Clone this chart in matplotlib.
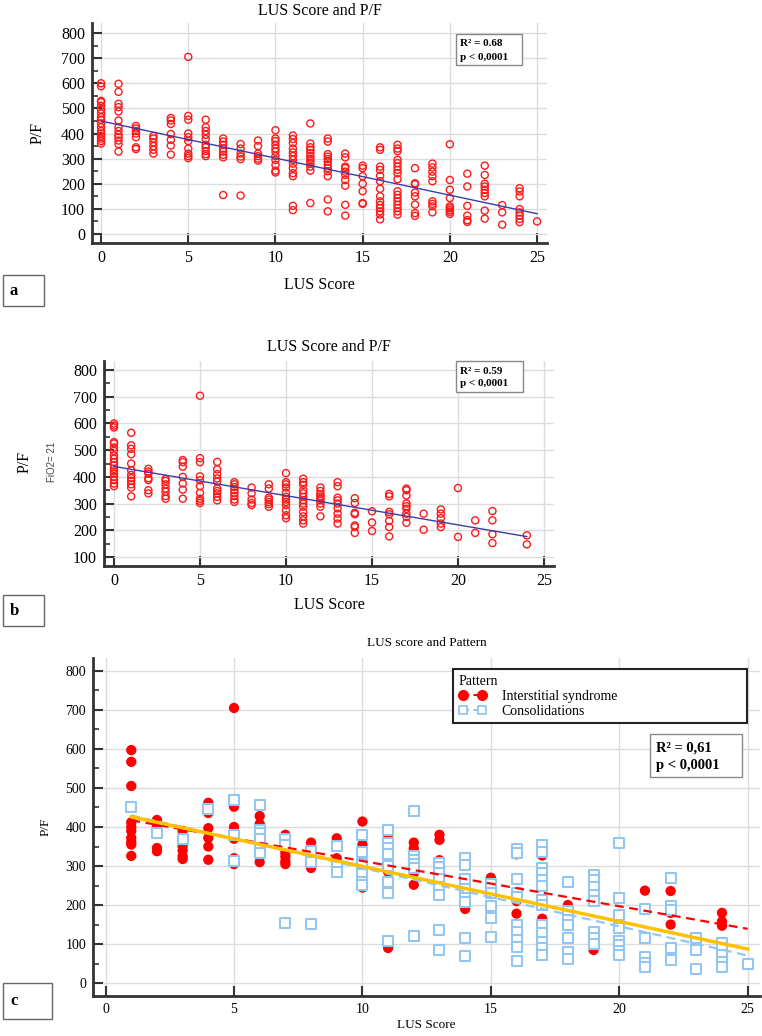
import numpy as np
import matplotlib
matplotlib.use("Agg")
import matplotlib.pyplot as plt
from matplotlib.patches import Rectangle
from matplotlib.lines import Line2D

plt.rcParams['font.family'] = ['Liberation Serif', 'DejaVu Serif']

# ---------------- data ----------------
a_scores = list(range(0, 26))
a_values = [
    [600, 588, 530, 525, 510, 495, 480, 465, 455, 440, 425, 410, 400, 390, 380, 370, 360],
    [598, 566, 518, 505, 488, 452, 425, 410, 395, 385, 372, 358, 328],
    [430, 420, 410, 400, 385, 345, 338],
    [390, 380, 365, 350, 335, 320],
    [462, 452, 438, 398, 375, 352, 316],
    [705, 470, 455, 400, 385, 370, 340, 320, 310, 302],
    [455, 425, 410, 395, 378, 355, 345, 330, 318, 310],
    [380, 368, 355, 340, 328, 315, 305, 155],
    [358, 340, 320, 308, 298, 153],
    [372, 350, 320, 310, 300, 292],
    [413, 380, 370, 355, 340, 328, 310, 295, 275, 252, 245],
    [392, 378, 362, 340, 325, 310, 295, 280, 262, 242, 230, 112, 95],
    [440, 360, 345, 335, 322, 310, 300, 290, 280, 268, 252, 123],
    [380, 368, 318, 308, 298, 288, 275, 262, 250, 230, 137, 90],
    [320, 305, 268, 262, 248, 235, 215, 192, 116, 73],
    [272, 262, 230, 200, 170, 123, 120],
    [345, 335, 268, 255, 232, 210, 180, 150, 130, 115, 103, 90, 78, 58],
    [355, 340, 330, 295, 282, 268, 255, 242, 218, 170, 156, 143, 130, 116, 103, 90, 77],
    [262, 202, 198, 165, 150, 117, 83, 72],
    [280, 265, 248, 230, 210, 130, 120, 110, 86],
    [357, 215, 176, 143, 110, 103, 95, 88, 80],
    [240, 189, 112, 73, 55, 48],
    [272, 235, 200, 189, 176, 163, 150, 93, 61],
    [115, 86, 37],
    [182, 169, 150, 99, 86, 73, 60, 47],
    [50],
]

b_scores = [0, 1, 2, 3, 4, 5, 6, 7, 8, 9, 10, 11, 12, 13, 14, 15, 16, 17, 18, 19, 20, 21, 22, 24]
b_values = [
    [600, 592, 585, 530, 525, 510, 497, 480, 468, 455, 443, 430, 420, 412, 400, 388, 375, 365],
    [565, 518, 505, 485, 450, 425, 407, 395, 385, 372, 360, 327],
    [430, 420, 412, 395, 388, 350, 338],
    [392, 385, 372, 356, 344, 328, 318],
    [463, 455, 438, 400, 375, 352, 318],
    [704, 470, 455, 402, 387, 365, 340, 318, 310, 302],
    [456, 428, 410, 394, 382, 356, 347, 338, 325, 312],
    [380, 372, 362, 350, 340, 328, 315, 306],
    [360, 338, 315, 302, 294],
    [372, 356, 322, 315, 306, 298, 288],
    [414, 380, 372, 360, 340, 325, 315, 306, 294, 275, 256, 245],
    [393, 380, 370, 350, 338, 325, 312, 300, 288, 268, 252, 237, 225],
    [360, 347, 335, 327, 318, 312, 300, 288, 252],
    [380, 365, 322, 312, 300, 282, 262, 244, 225],
    [320, 302, 265, 260, 218, 212, 190],
    [271, 229, 197],
    [336, 327, 269, 260, 235, 212, 177],
    [356, 350, 330, 300, 290, 280, 262, 250, 228],
    [262, 202],
    [278, 262, 245, 225, 212],
    [358, 175],
    [237, 190],
    [272, 237, 185, 152],
    [181, 147],
]

c_int_scores = [1, 2, 3, 4, 5, 6, 7, 8, 9, 10, 11, 12, 13, 14, 15, 16, 17, 18, 19, 20, 21, 22, 24]
c_int_values = [
    [597, 567, 505, 412, 400, 390, 372, 362, 355, 326],
    [418, 400, 388, 346, 338],
    [390, 350, 340, 325, 318],
    [462, 436, 397, 372, 350, 316],
    [705, 452, 400, 370, 320, 305],
    [428, 408, 355, 338, 325, 310],
    [380, 350, 334, 324, 312, 305],
    [360, 316, 295],
    [371, 320, 290],
    [414, 355, 330, 315, 275, 245],
    [372, 310, 285, 240, 90],
    [360, 345, 336, 282, 252],
    [380, 367, 315, 278],
    [232, 190],
    [270],
    [330, 210, 178],
    [327, 252, 165],
    [200],
    [85],
    [82],
    [237],
    [236, 180, 150],
    [180, 158, 147],
]

c_con_scores = list(range(1, 26))
c_con_values = [
    [450],
    [385],
    [370],
    [447],
    [470, 380, 312],
    [456, 392, 385, 368, 345, 333],
    [368, 355, 153],
    [338, 310, 151],
    [352, 300, 285],
    [380, 335, 305, 280, 260, 252],
    [392, 360, 345, 332, 300, 258, 230, 108],
    [440, 325, 315, 305, 295, 120],
    [308, 298, 282, 268, 247, 226, 136, 86],
    [320, 303, 266, 240, 218, 208, 115, 70],
    [255, 230, 198, 168, 117],
    [343, 334, 268, 230, 221, 150, 130, 110, 93, 57],
    [355, 335, 295, 282, 265, 248, 213, 200, 150, 128, 106, 89, 72],
    [260, 185, 162, 148, 115, 80, 63],
    [278, 264, 247, 226, 210, 130, 115, 100],
    [358, 218, 175, 142, 108, 97, 82, 72],
    [190, 115, 68, 52, 42],
    [270, 198, 188, 90, 60],
    [115, 85, 35],
    [102, 89, 72, 55, 42],
    [49],
]

legend_labels = ["Interstitial syndrome", "Consolidations"]
stats_a = ["R\u00b2 = 0.68", "p < 0,0001"]
stats_b = ["R\u00b2 = 0.59", "p < 0,0001"]
stats_c = ["R\u00b2 = 0,61", "p < 0,0001"]


def flatten(scores, values):
    xs, ys = [], []
    for s, vals in zip(scores, values):
        xs.extend([s] * len(vals))
        ys.extend(vals)
    return np.array(xs, float), np.array(ys, float)


ax_a_x, ax_a_y = flatten(a_scores, a_values)
ax_b_x, ax_b_y = flatten(b_scores, b_values)
ci_x, ci_y = flatten(c_int_scores, c_int_values)
cc_x, cc_y = flatten(c_con_scores, c_con_values)

# ---------------- figure ----------------
W, H = 762, 1036
fig = plt.figure(figsize=(W / 100, H / 100), dpi=100)
fig.patch.set_facecolor('white')


def rect(l, t, r, b):
    return [l / W, 1 - b / H, (r - l) / W, (b - t) / H]


GRID = '#dcdcdc'
SPINE = '#333333'


def style_axes(ax, tick_fs):
    for s in ['top', 'right']:
        ax.spines[s].set_visible(False)
    for s in ['left', 'bottom']:
        ax.spines[s].set_linewidth(2.0)
        ax.spines[s].set_color(SPINE)
    ax.set_xticks([0, 5, 10, 15, 20, 25])
    ax.grid(True, color=GRID, linewidth=1.0)
    ax.set_axisbelow(True)
    ax.tick_params(axis='both', which='major', direction='in', length=7, width=1.5,
                   color=SPINE, labelsize=tick_fs, pad=5)
    ax.tick_params(axis='y', which='minor', direction='in', length=4, width=1.2, color=SPINE)
    ax.tick_params(axis='x', which='minor', bottom=False)


# ---------- panel a ----------
ax1 = fig.add_axes(rect(92, 23, 547, 243))
style_axes(ax1, 11.5)
ax1.set_xlim(-0.52, 25.57)
ax1.set_ylim(-36, 840)
ax1.set_yticks(np.arange(0, 801, 100))
ax1.set_yticks(np.arange(50, 801, 100), minor=True)
ax1.scatter(ax_a_x, ax_a_y, s=26, facecolors='none', edgecolors='#ff1a1a', linewidths=1.0, zorder=3)
k, b0 = np.polyfit(ax_a_x, ax_a_y, 1)
xx = np.array([ax_a_x.min(), ax_a_x.max()])
ax1.plot(xx, k * xx + b0, color='#3c3ca8', linewidth=1.0, zorder=4)
ax1.set_title("LUS Score and P/F", fontsize=11.5, pad=6)
ax1.set_xlabel("LUS Score", fontsize=11.5, labelpad=8)
ax1.set_ylabel("P/F", fontsize=11.5, labelpad=11)

# ---------- panel b ----------
ax2 = fig.add_axes(rect(104, 361, 554, 566))
style_axes(ax2, 11.5)
ax2.set_xlim(-0.58, 25.58)
ax2.set_ylim(66, 834)
ax2.set_yticks(np.arange(100, 801, 100))
ax2.set_yticks(np.arange(150, 801, 100), minor=True)
ax2.scatter(ax_b_x, ax_b_y, s=26, facecolors='none', edgecolors='#ff1a1a', linewidths=1.0, zorder=3)
k, b0 = np.polyfit(ax_b_x, ax_b_y, 1)
xx = np.array([ax_b_x.min(), ax_b_x.max()])
ax2.plot(xx, k * xx + b0, color='#3c3ca8', linewidth=1.0, zorder=4)
ax2.set_title("LUS Score and P/F", fontsize=11.5, pad=7)
ax2.set_xlabel("LUS Score", fontsize=11.5, labelpad=6)
fig.text(25 / W, 1 - 462 / H, "P/F", rotation=90, fontsize=11.5, ha='center', va='center')
fig.text(52 / W, 1 - 462 / H, "FiO2= 21", rotation=90, fontsize=7, ha='center', va='center',
         family=['Liberation Sans', 'DejaVu Sans'], color='#444444')

# ---------- panel c ----------
ax3 = fig.add_axes(rect(93, 658, 760, 996))
style_axes(ax3, 10)
ax3.set_xlim(-0.49, 25.48)
ax3.set_ylim(-33, 833)
ax3.set_yticks(np.arange(0, 801, 100))
ax3.set_yticks(np.arange(50, 801, 100), minor=True)
RED = '#ff0000'
LBLUE = '#93c6f2'
GOLD = '#ffc000'
ax3.scatter(ci_x, ci_y, s=55, color=RED, edgecolors='none', zorder=3)
ax3.scatter(cc_x, cc_y, s=42, marker='s', facecolors='white', edgecolors=LBLUE, linewidths=1.5, zorder=4)
all_x = np.concatenate([ci_x, cc_x])
all_y = np.concatenate([ci_y, cc_y])
xr = np.array([all_x.min(), all_x.max()])
k_i, b_i = np.polyfit(ci_x, ci_y, 1)
k_c, b_c = np.polyfit(cc_x, cc_y, 1)
k_t, b_t = np.polyfit(all_x, all_y, 1)
ax3.plot(xr, k_c * xr + b_c, color=LBLUE, linewidth=1.6, linestyle=(0, (4, 2.5)), zorder=5)
ax3.plot(xr, k_i * xr + b_i, color=RED, linewidth=1.6, linestyle=(0, (4, 2.5)), zorder=5)
ax3.plot(xr, k_t * xr + b_t, color=GOLD, linewidth=2.5, zorder=6)
ax3.set_title("LUS score and Pattern", fontsize=9.5, pad=9)
ax3.set_xlabel("LUS Score", fontsize=9.5, labelpad=2)
ax3.set_ylabel("P/F", fontsize=9.5, labelpad=10)

handles = [
    Line2D([0], [0], color=RED, linestyle=(0, (3, 2)), linewidth=1.5, marker='o',
           markersize=7, markerfacecolor=RED, markeredgecolor=RED),
    Line2D([0], [0], color=LBLUE, linestyle=(0, (3, 2)), linewidth=1.5, marker='s',
           markersize=6, markerfacecolor='white', markeredgecolor=LBLUE, markeredgewidth=1.3),
]
leg = fig.legend(handles, legend_labels, title="Pattern", loc='upper left',
                 bbox_to_anchor=(453 / W, 1 - 727 / H, 294 / W, 58 / H), mode='expand',
                 borderaxespad=0, fontsize=10, title_fontsize=10, numpoints=2,
                 handlelength=2.0, handletextpad=1.1, labelspacing=0.15,
                 fancybox=False, framealpha=1, edgecolor='#222222', alignment='left',
                 borderpad=0.4)
leg.get_frame().set_linewidth(1.5)


# ---------- annotation boxes ----------
def box(l, t, r, b, ec='#888888', lw=1.0):
    fig.patches.append(Rectangle((l / W, 1 - b / H), (r - l) / W, (b - t) / H,
                                 transform=fig.transFigure, facecolor='white',
                                 edgecolor=ec, linewidth=lw, zorder=10))


box(456, 34, 522, 65)
fig.text(460 / W, 1 - 44 / H, stats_a[0], fontsize=8, fontweight='bold', va='center', zorder=11)
fig.text(460 / W, 1 - 57 / H, stats_a[1], fontsize=8, fontweight='bold', va='center', zorder=11)
box(456, 361, 523, 392)
fig.text(460 / W, 1 - 371 / H, stats_b[0], fontsize=8, fontweight='bold', va='center', zorder=11)
fig.text(460 / W, 1 - 384 / H, stats_b[1], fontsize=8, fontweight='bold', va='center', zorder=11)
box(650, 734, 742, 777)
fig.text(656 / W, 1 - 748 / H, stats_c[0], fontsize=10.5, fontweight='bold', va='center', zorder=11)
fig.text(656 / W, 1 - 766 / H, stats_c[1], fontsize=10.5, fontweight='bold', va='center', zorder=11)

# panel letters
box(3, 275, 44, 306, ec='#666666', lw=1.0)
fig.text(10 / W, 1 - 291 / H, "a", fontsize=12, fontweight='bold', va='center', zorder=11)
box(3, 595, 44, 626, ec='#666666', lw=1.0)
fig.text(10 / W, 1 - 611 / H, "b", fontsize=12, fontweight='bold', va='center', zorder=11)
box(3, 983, 52, 1019, ec='#666666', lw=1.0)
fig.text(10 / W, 1 - 1001 / H, "c", fontsize=12, fontweight='bold', va='center', zorder=11)

fig.savefig("out.png", dpi=100)
